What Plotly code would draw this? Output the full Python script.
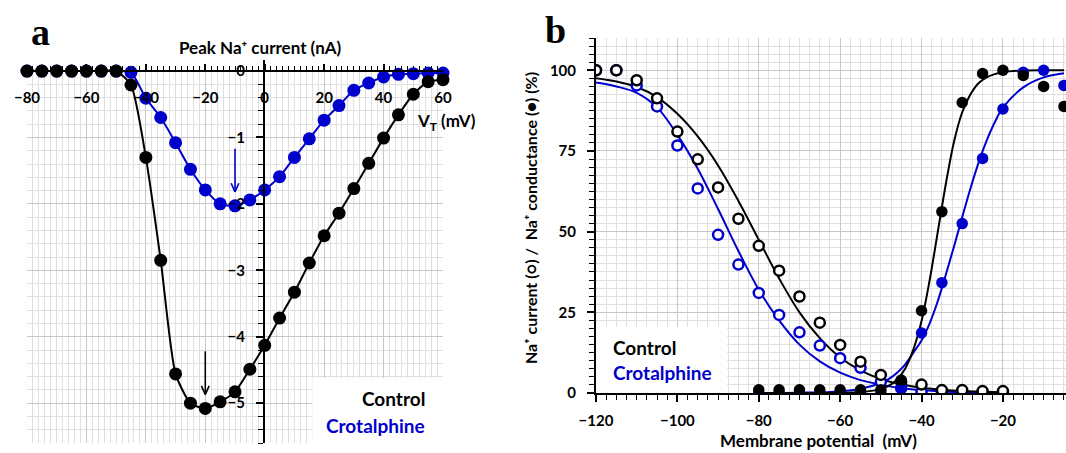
import plotly.graph_objects as go

# ---------------- Panel a data ----------------
V_a = list(range(-80, 65, 5))
control_a = [0, 0, 0, 0, 0, 0, 0, -0.21, -1.30, -2.85, -4.56, -5.00, -5.08, -4.98, -4.83,
             -4.49, -4.13, -3.72, -3.33, -2.89, -2.48, -2.14, -1.77, -1.39, -1.01, -0.66,
             -0.35, -0.16, -0.13]
crotal_a = [0, 0, 0, 0, 0, 0, 0, -0.02, -0.41, -0.70, -1.08, -1.48, -1.79, -2.00, -2.03,
            -1.94, -1.79, -1.59, -1.30, -1.02, -0.74, -0.52, -0.29, -0.18, -0.09, -0.05,
            -0.04, -0.03, -0.03]
a_xticks = [-80, -60, -40, -20, 0, 20, 40, 60]
a_yticks = [0, -1, -2, -3, -4, -5]

# ---------------- Panel b data ----------------
V_inact = list(range(-120, -15, 5))
control_inact = [100, 100, 96.9, 91.3, 81.0, 72.4, 63.7, 54.0, 45.6, 37.9, 29.9, 21.8, 14.9,
                 9.7, 5.6, 3.5, 2.6, 0.9, 0.9, 0.6, 0.6]
crotal_inact = [100, 100, 95.3, 88.8, 76.7, 63.4, 49.0, 39.8, 31.0, 24.2, 18.8, 14.7, 10.8,
                7.8, 3.5, 1.5, 0.3, 0, 0, 0, 0]
V_act = list(range(-80, 0, 5))
control_act = [1, 1, 1, 1, 1, 1, 1, 4, 25.5, 56.2, 90, 99, 100, 98.4, 95, 88.8]
crotal_act = [0, 0, 0, 0, 0, 0, 0, 1.5, 18.6, 34.2, 52.5, 72.7, 88, 99.4, 100, 95.3]

# fitted curves
V_fit_inact = list(range(-120, -15, 5))
control_inact_fit = [97.5, 96.5, 94.8, 91.7, 86.5, 79.5, 70.5, 59.5, 47.5, 35.5, 25.0, 17.0,
                     11.0, 7.0, 4.3, 2.7, 1.6, 1.0, 0.6, 0.4, 0.2]
crotal_inact_fit = [96.2, 95.0, 93.0, 88.5, 80.0, 69.5, 57.0, 44.0, 32.0, 22.5, 15.0, 9.8,
                    6.3, 4.0, 2.6, 1.5, 0.9, 0.5, 0.3, 0.2, 0.1]
V_fit_act = [-80, -70, -60, -55, -50, -48, -46, -44, -42, -40, -38, -36, -34, -32, -30, -28,
             -26, -24, -22, -20, -15, -10, -5]
control_act_fit = [0, 0, 0.05, 0.3, 1.2, 2.3, 4.2, 7.6, 13.5, 22.3, 35, 50, 65, 78, 87, 92.5,
                   96, 97.8, 98.8, 99.4, 99.9, 100, 100]
crotal_act_fit = [0, 0.1, 0.5, 1.3, 3.1, 4.4, 6.3, 8.9, 12.5, 16.3, 21.6, 28.5, 36.8, 45.5,
                  54.5, 63.3, 71.3, 78.2, 83.9, 88.4, 94.7, 97.8, 99.1]
b_xticks = [-120, -100, -80, -60, -40, -20]
b_yticks = [0, 25, 50, 75, 100]

BLACK = "#000000"
BLUE = "#0000CC"
FONT = "Lato"

fig = go.Figure()

# Panel a traces
fig.add_trace(go.Scatter(x=V_a, y=crotal_a, mode="lines+markers", xaxis="x", yaxis="y",
                         line=dict(color=BLUE, width=2, shape="spline", smoothing=0.6),
                         marker=dict(color=BLUE, size=13), cliponaxis=False))
fig.add_trace(go.Scatter(x=V_a, y=control_a, mode="lines+markers", xaxis="x", yaxis="y",
                         line=dict(color=BLACK, width=2, shape="spline", smoothing=0.6),
                         marker=dict(color=BLACK, size=13), cliponaxis=False))

# Panel b traces: fits
for xs, ys, c in [(V_fit_inact, crotal_inact_fit, BLUE), (V_fit_inact, control_inact_fit, BLACK),
                  (V_fit_act, crotal_act_fit, BLUE), (V_fit_act, control_act_fit, BLACK)]:
    fig.add_trace(go.Scatter(x=xs, y=ys, mode="lines", xaxis="x2", yaxis="y2",
                             line=dict(color=c, width=2, shape="spline", smoothing=1)))
# open circles
fig.add_trace(go.Scatter(x=V_inact, y=crotal_inact, mode="markers", xaxis="x2", yaxis="y2",
                         marker=dict(color="white", size=10, line=dict(color=BLUE, width=2.5))))
fig.add_trace(go.Scatter(x=V_inact, y=control_inact, mode="markers", xaxis="x2", yaxis="y2",
                         marker=dict(color="white", size=10, line=dict(color=BLACK, width=2.5))))
# filled circles
fig.add_trace(go.Scatter(x=V_act, y=crotal_act, mode="markers", xaxis="x2", yaxis="y2",
                         marker=dict(color=BLUE, size=11.5)))
fig.add_trace(go.Scatter(x=V_act, y=control_act, mode="markers", xaxis="x2", yaxis="y2",
                         marker=dict(color=BLACK, size=11.5)))

tickfont = dict(family=FONT, size=15, color="black", weight="bold")
GRID = "#c8c8c8"
MINOR = "#e0e0e0"

W, H = 1066, 453
common = dict(showline=True, linecolor="black", linewidth=2, tickcolor="black",
              tickwidth=1.5, tickfont=tickfont, zeroline=False, automargin=False,
              showgrid=True, gridcolor=GRID, gridwidth=1)
fig.update_layout(
    width=W, height=H, margin=dict(l=0, r=0, t=0, b=0, pad=0),
    paper_bgcolor="white", plot_bgcolor="white", showlegend=False,
    xaxis=dict(domain=[27 / W, 443 / W], range=[-80, 60], anchor="free", position=1 - 71 / H,
               side="bottom", tickvals=a_xticks, ticks="inside", ticklen=6,
               ticklabelstandoff=13,
               minor=dict(dtick=2, showgrid=True, gridcolor=MINOR, gridwidth=1,
                          ticks="inside", ticklen=4, tickcolor="black", tickwidth=1.2),
               **common),
    yaxis=dict(domain=[1 - 443 / H, 1 - 60 / H], range=[-5.6, 0.166], anchor="free",
               position=264 / W, tickvals=a_yticks, ticks="outside", ticklen=7,
               ticklabelstandoff=8,
               minor=dict(dtick=0.2, showgrid=True, gridcolor=MINOR, gridwidth=1,
                          ticks="outside", ticklen=5, tickcolor="black", tickwidth=1.2),
               **common),
    xaxis2=dict(domain=[596 / W, 1.0], range=[-120, -4.5], anchor="y2",
                tickvals=b_xticks, ticks="outside", ticklen=7, ticklabelstandoff=6,
                minor=dict(dtick=2.5, showgrid=True, gridcolor=MINOR, gridwidth=1,
                           ticks="outside", ticklen=5, tickcolor="black", tickwidth=1.2),
                **common),
    yaxis2=dict(domain=[1 - 393 / H, 1 - 38 / H], range=[0, 110], anchor="x2",
                tickvals=b_yticks, ticks="outside", ticklen=7, ticklabelstandoff=8,
                minor=dict(dtick=2.5, showgrid=True, gridcolor=MINOR, gridwidth=1,
                           ticks="outside", ticklen=5, tickcolor="black", tickwidth=1.2),
                **common),
)

shapes = []
# white strip above zero in panel a (no grid there)
shapes.append(dict(type="rect", xref="x", yref="y", x0=-80, x1=60, y0=0, y1=0.166,
                   fillcolor="white", line=dict(width=0), layer="between"))
# legend boxes
shapes.append(dict(type="rect", xref="x", yref="y", x0=16, x1=60, y0=-5.6, y1=-4.62,
                   fillcolor="white", line=dict(width=0), layer="between"))
shapes.append(dict(type="rect", xref="x2", yref="y2", x0=-120, x1=-87.8, y0=0, y1=20.5,
                   fillcolor="white", line=dict(width=0), layer="between"))

# arrows at the peaks of panel a
for series, color in [(control_a, BLACK), (crotal_a, BLUE)]:
    ymin = min(series)
    xpk = V_a[series.index(ymin)]
    tip = ymin + 0.21
    tail = ymin + 0.86
    shapes.append(dict(type="line", xref="x", yref="y", x0=xpk, x1=xpk, y0=tail, y1=tip,
                       line=dict(color=color, width=1.6)))
    for dx in (-1.3, 1.3):
        shapes.append(dict(type="line", xref="x", yref="y", x0=xpk + dx, x1=xpk,
                           y0=tip + 0.13, y1=tip, line=dict(color=color, width=1.6)))
fig.update_layout(shapes=shapes)

ann = []
def txt(x, y, s, size=15, color="black", xanchor="center", family=FONT, angle=0):
    ann.append(dict(x=x / W, y=1 - y / H, xref="paper", yref="paper", text=s, showarrow=False,
                    xanchor=xanchor, yanchor="middle", textangle=angle,
                    font=dict(family=family, size=size, color=color, weight="bold")))

txt(40, 32, "a", size=38, family="Liberation Serif")
txt(555, 30, "b", size=38, family="Liberation Serif")
txt(260, 48, "Peak Na\u207a current (nA)", size=17)
txt(446, 122, "V<sub>T</sub> (mV)", size=17)
txt(427, 398, "Control", size=19, xanchor="right")
txt(427, 425, "Crotalphine", size=19, color=BLUE, xanchor="right")
txt(611, 347, "Control", size=19, xanchor="left")
txt(611, 372, "Crotalphine", size=19, color=BLUE, xanchor="left")
txt(818, 440, "Membrane potential  (mV)", size=17)
txt(530, 218, "Na\u207a current (\u25cb) /  Na\u207a conductance (\u25cf) (%)", size=16, angle=-90)
fig.update_layout(annotations=ann)

fig.write_html("out.html", config={"displayModeBar": False},
               post_script="document.body.style.margin='0px';"
                           "document.body.style.overflow='hidden';")
